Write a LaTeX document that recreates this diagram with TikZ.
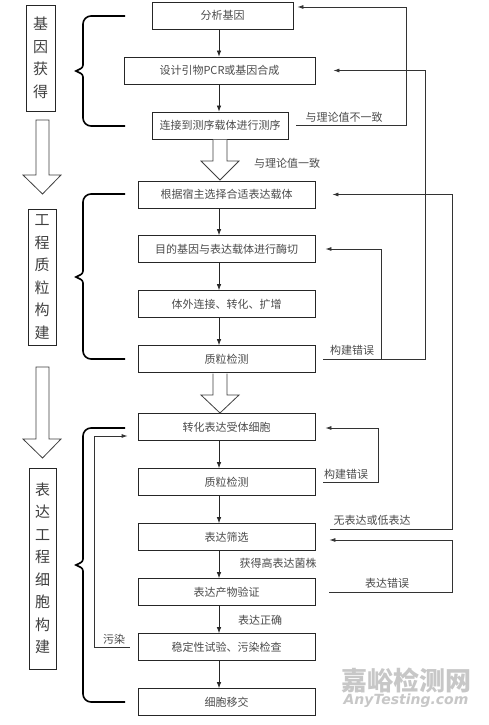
\documentclass[tikz,border=0pt]{standalone}
\usepackage{fontspec}
\newfontfamily\cjk{Noto Sans CJK SC}
\newfontfamily\wmfont{DejaVu Sans}
\usetikzlibrary{arrows.meta,calc}
\begin{document}
\begin{tikzpicture}[x=1pt,y=-1pt,
  box/.style={draw=black!85, line width=0.8pt, text=black!70, font=\cjk\fontsize{11}{13}\selectfont, minimum height=27pt, inner sep=0pt},
  sidebox/.style={draw=black!85, line width=0.8pt, text=black!75, font=\cjk\fontsize{15}{22.5}\selectfont, align=center, inner sep=0pt},
  lbl/.style={text=black!70, font=\cjk\fontsize{11}{13}\selectfont, inner sep=0pt},
  flow/.style={draw=black!85, line width=0.7pt, -{Latex[length=6pt,width=4.5pt]}},
  fb/.style={draw=black!80, line width=0.8pt, -{Latex[length=6pt,width=4pt]}},
  fbline/.style={draw=black!80, line width=0.8pt},
  hollow/.style={draw=black!75, line width=0.8pt, fill=white},
  brace/.style={draw=black, line width=1.6pt}
]
\useasboundingbox (0,0) rectangle (488,725);
\fill[white] (0,0) rectangle (488,725);
\coordinate (ax) at (219,0);

% main boxes
\node[box, minimum width=141pt] (b1) at (222.5,15.5) {分析基因};
\node[box, minimum width=191pt] (b2) at (219.5,70.5) {设计引物PCR或基因合成};
\node[box, minimum width=136pt] (b3) at (220,125.5) {连接到测序载体进行测序};
\node[box, minimum width=177pt] (b4) at (226.5,194.5) {根据宿主选择合适表达载体};
\node[box, minimum width=177pt] (b5) at (226.5,249) {目的基因与表达载体进行酶切};
\node[box, minimum width=177pt] (b6) at (226.5,304) {体外连接、转化、扩增};
\node[box, minimum width=177pt] (b7) at (226.5,359) {质粒检测};
\node[box, minimum width=177pt] (b8) at (226.5,427) {转化表达受体细胞};
\node[box, minimum width=177pt] (b9) at (226.5,482) {质粒检测};
\node[box, minimum width=177pt] (b10) at (226.5,537) {表达筛选};
\node[box, minimum width=177pt] (b11) at (226.5,592) {表达产物验证};
\node[box, minimum width=177pt] (b12) at (226.5,647) {稳定性试验、污染检查};
\node[box, minimum width=177pt] (b13) at (226.5,702) {细胞移交};

% side labels
\node[sidebox, minimum width=29pt, minimum height=106pt] (s1) at (40.5,58) {基\\因\\获\\得};
\node[sidebox, minimum width=28pt, minimum height=136pt] (s2) at (42,277) {工\\程\\质\\粒\\构\\建};
\node[sidebox, minimum width=27pt, minimum height=201pt] (s3) at (42.5,568.5) {表\\达\\工\\程\\细\\胞\\构\\建};

% flow arrows
\draw[flow] (b1.south -| ax) -- (b2.north -| ax);
\draw[flow] (b2.south -| ax) -- (b3.north -| ax);
\draw[flow] (b4.south -| ax) -- (b5.north -| ax);
\draw[flow] (b5.south -| ax) -- (b6.north -| ax);
\draw[flow] (b6.south -| ax) -- (b7.north -| ax);
\draw[flow] (b8.south -| ax) -- (b9.north -| ax);
\draw[flow] (b9.south -| ax) -- (b10.north -| ax);
\draw[flow] (b10.south -| ax) -- (b11.north -| ax);
\draw[flow] (b11.south -| ax) -- (b12.north -| ax);
\draw[flow] (b12.south -| ax) -- (b13.north -| ax);

% hollow arrows
\draw[hollow] (213,139.5) -- (213,161) -- (201,161) -- (220,180) -- (239,161) -- (227,161) -- (227,139.5);
\draw[hollow] (213,373.5) -- (213,395) -- (201,395) -- (220,413) -- (239,395) -- (227,395) -- (227,373.5);
\draw[hollow] (36,120) -- (36,175) -- (23,175) -- (42.5,194) -- (61,175) -- (49,175) -- (49,120) -- cycle;
\draw[hollow] (36,367) -- (36,439) -- (23,439) -- (42.5,458) -- (61,439) -- (49,439) -- (49,367) -- cycle;

% braces
\foreach \T/\M/\B in {16/71/126, 194/277/359, 428/565/702}{
  \draw[brace] (125,\T) -- (91,\T) to[out=180,in=90] (83,\T+8) -- (83,\M-6)
    to[out=-90,in=30] (76,\M) to[out=-30,in=90] (83,\M+6) -- (83,\B-8)
    to[out=-90,in=180] (91,\B) -- (125,\B);
}

% feedback connectors
\draw[fb] ($(b3.east)+(8,0)$) -- (406,125.5) |- ($(b1.east)+(4,-8.5)$);
\draw[fb] ($(b7.east)+(8,0)$) -- (425,359) |- ($(b2.east)+(18,0)$);
\coordinate (br) at (381,359);
\draw[fb] (br) |- ($(b5.east)+(10,0)$);
\draw[fb] ($(b10.east)+(15,-8)$) -- (452,529) |- ($(b4.east)+(17,0)$);
\draw[fb] ($(b11.east)+(14,0)$) -- (452,592) |- ($(b10.east)+(14,3)$);
\draw[fb] ($(b9.east)+(8,0)$) -- (378,482) |- ($(b8.east)+(10,1)$);
\draw[fb] ($(b12.west)+(-8,0)$) -- (94,647) |- ($(b8.west)+(-10,9)$);

% labels
\node[lbl] (l1) at (344,117) {与理论值不一致};
\node[lbl] (l2) at (287,163) {与理论值一致};
\node[lbl] (l3) at (352,350) {构建错误};
\node[lbl] (l4) at (346,474) {构建错误};
\node[lbl] (l5) at (372,520) {无表达或低表达};
\node[lbl] (l6) at (278,563) {获得高表达菌株};
\node[lbl] (l7) at (387,583) {表达错误};
\node[lbl] (l8) at (260,620) {表达正确};
\node[lbl] (l9) at (114,639) {污染};

% watermark
\node[text=black!22, font=\cjk\bfseries\fontsize{26}{28}\selectfont, inner sep=0pt] (wm1) at (406,680) {嘉峪检测网};
\node[text=black!22, font=\wmfont\bfseries\itshape\fontsize{14}{16}\selectfont, inner sep=0pt] (wm2) at (406,701) {AnyTesting.com};
\end{tikzpicture}
\end{document}
